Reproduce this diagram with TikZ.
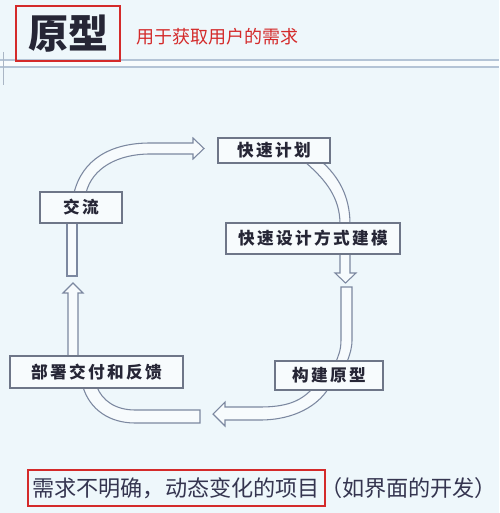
\documentclass[tikz,border=0pt]{standalone}
\usepackage{fontspec}
\newfontfamily\cjk{Noto Sans CJK SC}
\newfontfamily\cjkbox[LetterSpace=14,BoldFeatures={LetterSpace=14}]{Noto Sans CJK SC}
\definecolor{bgc}{HTML}{EEF7FB}
\definecolor{boxc}{HTML}{6E7688}
\definecolor{boxfill}{HTML}{F7FBFD}
\definecolor{arrc}{HTML}{7C88A0}
\definecolor{redc}{HTML}{D42A2A}
\definecolor{inkc}{HTML}{262636}
\definecolor{navyc}{HTML}{353550}
\definecolor{linec}{HTML}{B4C4D6}
\tikzset{
  stepbox/.style={draw=boxc, fill=boxfill, line width=0.95pt, inner sep=0pt,
    font=\cjkbox\bfseries\fontsize{12.5}{14}\selectfont, text=inkc},
  hollow/.style={draw=arrc, fill=boxfill, line width=0.8pt, line join=miter},
}
\begin{document}
\begin{tikzpicture}[x=0.75pt,y=-0.75pt]
\useasboundingbox (0,0) rectangle (499,513);
\fill[bgc] (0,0) rectangle (499,513);
% header band
\fill[white!60!bgc] (0,60) rectangle (499,67);
\draw[linec, line width=0.8pt] (0,60) -- (499,60);
\draw[linec, line width=0.8pt] (0,67) -- (499,67);
\draw[linec!80!gray, line width=0.6pt] (3,52) -- (3,85);
% title
\node[draw=redc, line width=1.6pt, minimum width=104*0.75pt, minimum height=55*0.75pt, inner sep=0pt,
      anchor=north west] (titlebox) at (15,5) {};
\node[text=inkc, font=\cjk\bfseries\fontsize{30}{32}\selectfont, inner sep=0pt] (title) at (titlebox.center) {原型};
\node[text=redc, font=\cjk\fontsize{13.5}{15}\selectfont, inner sep=0pt, anchor=west] (subtitle) at (136,37) {用于获取用户的需求};

% hollow arrows (drawn before boxes)
% 1: 交流 -> 快速计划
\path[hollow] (74,193) .. controls (82,160) and (110,143) .. (150,143) -- (193,143) -- (193,138) -- (204,148.5)
  -- (193,159) -- (193,154) -- (150,154) .. controls (118,154) and (92,168) .. (86,193);
% 2: 快速计划 -> 快速设计方式建模
\path[hollow] (305,162) .. controls (326,180) and (340,198) .. (340,224) -- (350,224)
  .. controls (350,196) and (338,176) .. (322,162);
% 3: 快速设计方式建模 down arrow
\path[hollow] (340,253) -- (340,273) -- (335,273) -- (345.5,283) -- (356,273) -- (350,273) -- (350,253);
% 4: down to 构建原型
\path[hollow] (341,287) -- (341,340) .. controls (341,351) and (338,356) .. (336,362) -- (347,362)
  .. controls (350,354) and (352,348) .. (352,340) -- (352,287) -- cycle;
% 5: 构建原型 -> left
\path[hollow] (312,389) .. controls (300,402) and (285,407) .. (260,407) -- (225,407) -- (225,402) -- (213,414)
  -- (225,426) -- (225,420) -- (260,420) .. controls (295,420) and (318,405) .. (328,389);
% 6: -> 部署交付和反馈
\path[hollow] (200,410) -- (135,410) .. controls (115,410) and (102,400) .. (97,387) -- (83,387)
  .. controls (90,410) and (110,423) .. (135,423) -- (200,423) -- cycle;
% 7: 部署交付和反馈 up arrow
\path[hollow] (68,357) -- (68,293) -- (63,293) -- (73,283) -- (83,293) -- (78,293) -- (78,357);
% 8: below 交流
\path[hollow] (67,222) -- (67,276) -- (77,276) -- (77,222);

% boxes
\node[stepbox, minimum width=82*0.75pt, minimum height=31*0.75pt] (jl) at (81,207.5) {交流};
\node[stepbox, minimum width=112*0.75pt, minimum height=25*0.75pt] (ksjh) at (274,150.5) {快速计划};
\node[stepbox, minimum width=174*0.75pt, minimum height=31*0.75pt] (kssj) at (313,238.5) {快速设计方式建模};
\node[stepbox, minimum width=173*0.75pt, minimum height=32*0.75pt] (bs) at (96.5,372) {部署交付和反馈};
\node[stepbox, minimum width=108*0.75pt, minimum height=29*0.75pt] (gj) at (329,375.5) {构建原型};

% bottom line
\node[draw=redc, line width=1.4pt, minimum width=297*0.75pt, minimum height=36*0.75pt, inner sep=0pt,
      anchor=north west] (botbox) at (27,469) {};
\node[text=navyc, font=\cjk\fontsize{16.6}{18}\selectfont, inner sep=0pt, anchor=west] (bottom) at (32,488)
  {需求不明确，动态变化的项目（如界面的开发）};
\end{tikzpicture}
\end{document}
